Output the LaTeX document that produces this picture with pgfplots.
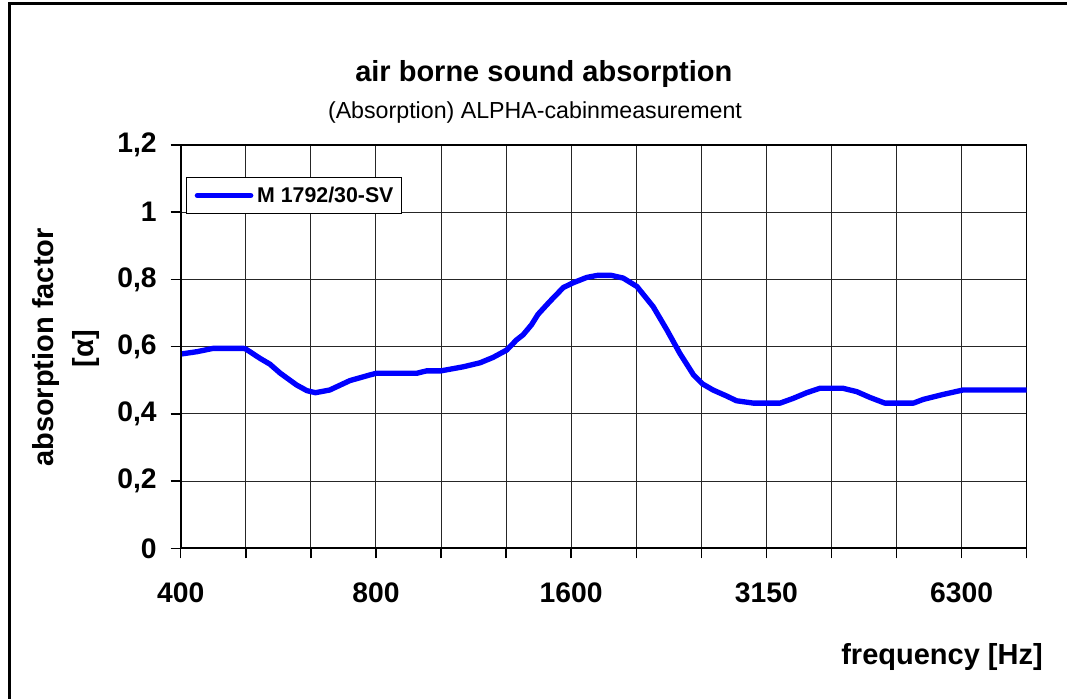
\documentclass[border=0pt]{standalone}
\usepackage{fontspec}
\setmainfont{Liberation Sans}
\usepackage{pgfplots}
\pgfplotsset{compat=1.18}
\definecolor{curveblue}{RGB}{0,0,255}
\begin{document}
\begin{tikzpicture}
\useasboundingbox (0,0) rectangle (800.25pt,-524.25pt);
\begin{scope}[x=0.75pt,y=-0.75pt]
\clip (0,0) rectangle (1067,699);
\draw[line width=2.25pt] (9.5,4) rectangle (1120,760);
\end{scope}
\begin{scope}[x=0.75pt,y=-0.75pt]
\node[anchor=base,inner sep=0pt,font=\fontsize{21.75}{26}\selectfont\bfseries] at (543.8,82) {air borne sound absorption};
\node[anchor=base,inner sep=0pt,font=\fontsize{17.4}{21}\selectfont] at (535,118) {(Absorption) ALPHA-cabinmeasurement};
\node[anchor=base,rotate=90,inner sep=0pt,font=\fontsize{21.75}{26}\selectfont\bfseries] at (53,347.5) {absorption factor};
\node[anchor=base,rotate=90,inner sep=0pt,font=\fontsize{21.75}{26}\selectfont\bfseries] at (93.4,348.5) {[α]};
\node[anchor=base east,inner sep=0pt,font=\fontsize{21.75}{26}\selectfont\bfseries] at (1043,664) {frequency [Hz]};
\end{scope}
\begin{axis}[
  at={(135.525pt,-411.225pt)}, anchor=south west,
  scale only axis, width=634.5pt, height=302.475pt,
  xmin=0, xmax=13, ymin=0, ymax=1.2,
  xtick={0,1,2,3,4,5,6,7,8,9,10,11,12,13},
  xticklabels={400,,,800,,,1600,,,3150,,,6300,},
  ytick={0,0.2,0.4,0.6,0.8,1,1.2},
  yticklabels={0,{0,2},{0,4},{0,6},{0,8},1,{1,2}},
  /pgf/number format/assume math mode=true,
  tick align=outside, xtick pos=bottom, ytick pos=left,
  major tick length=7.5pt,
  tick style={black, line width=1.1pt},
  ticklabel style={font=\fontsize{21.2}{25}\selectfont\bfseries},
  yticklabel style={anchor=east, inner sep=0pt, xshift=-10.3pt},
  xticklabel style={anchor=north, inner sep=0pt, yshift=-18.5pt},
  xmajorgrids, ymajorgrids,
  major grid style={black!85, line width=0.75pt},
  axis line style={black, line width=1pt},
  legend style={at={(0.00626,0.9214)}, anchor=north west, draw=black, line width=1.1pt, fill=white,
    inner xsep=6pt, inner ysep=7pt, nodes={inner sep=0pt}, column sep=2.8pt,
    font=\fontsize{16}{19}\selectfont\bfseries},
  legend cell align=left,
  legend image code/.code={\draw[#1] (0pt,0pt) -- (40pt,0pt);},
]
\addplot[curveblue, line width=4pt, line cap=round, line join=round] coordinates {
(0,0.578) (0.25,0.585) (0.5,0.595) (0.96,0.595) (1.0,0.593) (1.22,0.565) (1.37,0.548)
(1.53,0.521) (1.78,0.486) (1.94,0.469) (2.07,0.463) (2.29,0.471) (2.6,0.499) (2.91,0.516)
(3.01,0.521) (3.63,0.521) (3.78,0.528) (4.0,0.528) (4.34,0.54) (4.6,0.552) (4.8,0.568)
(5.01,0.59) (5.16,0.62) (5.26,0.635) (5.39,0.665) (5.49,0.696) (5.67,0.734) (5.88,0.776)
(6.03,0.79) (6.24,0.806) (6.4,0.812) (6.62,0.812) (6.8,0.804) (7.01,0.779) (7.26,0.719)
(7.47,0.65) (7.67,0.58) (7.88,0.516) (8.02,0.489) (8.18,0.471) (8.39,0.453) (8.54,0.439)
(8.8,0.432) (9.21,0.432) (9.41,0.446) (9.62,0.463) (9.82,0.476) (10.18,0.476) (10.39,0.466)
(10.59,0.449) (10.82,0.432) (11.26,0.432) (11.41,0.443) (11.72,0.458) (12.02,0.471) (13.0,0.471)
};
\addlegendentry{M 1792/30-SV\hspace{2.2pt}}
\draw[black, line width=1.6pt] (axis cs:0,1.2) -- (axis cs:0,0) -- (axis cs:13,0);
\end{axis}
\end{tikzpicture}
\end{document}
